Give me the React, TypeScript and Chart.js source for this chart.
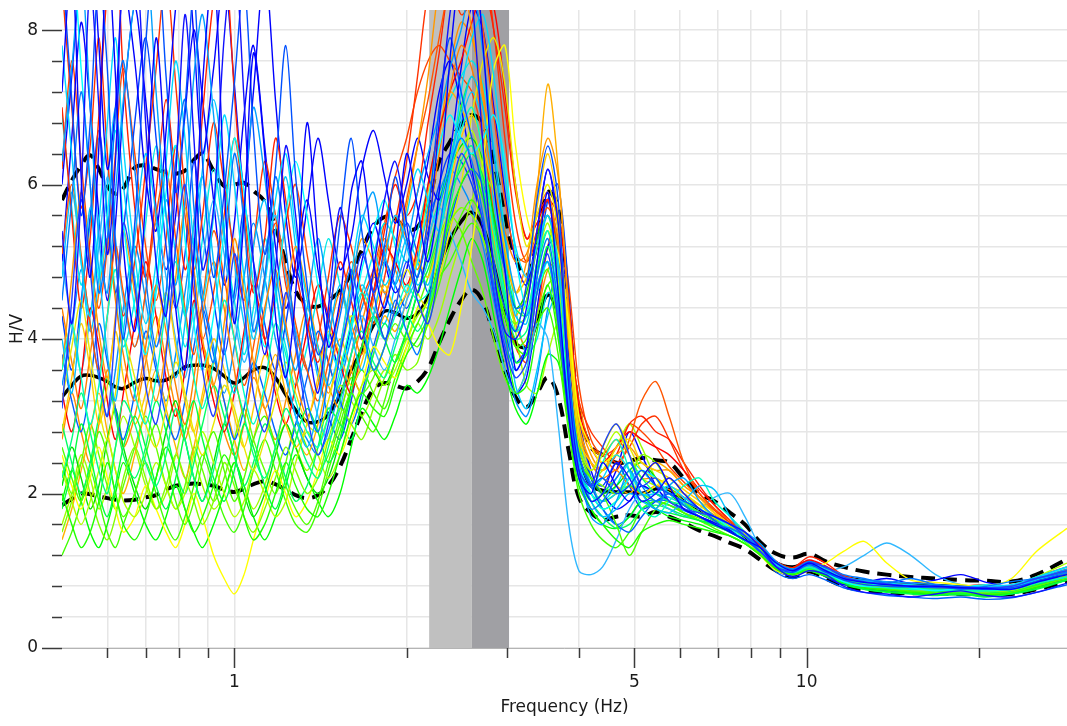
import { useEffect, useRef } from "react";
import { Chart, registerables } from "chart.js";

Chart.register(...registerables);

// Frequency samples (Hz) shared by every curve
const FREQ = [
  0.5, 0.52, 0.54, 0.56, 0.58, 0.6, 0.62, 0.64,
  0.67, 0.7, 0.73, 0.76, 0.79, 0.82, 0.85, 0.88,
  0.92, 0.96, 1.0, 1.04, 1.08, 1.13, 1.18, 1.23,
  1.28, 1.34, 1.4, 1.46, 1.53, 1.6, 1.67, 1.75,
  1.83, 1.91, 2.0, 2.09, 2.18, 2.28, 2.38, 2.49,
  2.6, 2.72, 2.84, 2.97, 3.1, 3.24, 3.38, 3.53,
  3.68, 3.84, 4.0, 4.2, 4.4, 4.65, 4.9, 5.15,
  5.45, 5.75, 6.1, 6.5, 6.9, 7.35, 7.8, 8.3,
  8.85, 9.45, 10.1, 10.8, 11.6, 12.6, 13.8, 15.2,
  16.8, 18.6, 20.6, 22.8, 25.2, 28.5,
];

// Average H/V curve and its ±1 standard deviation curves
const MEAN = [
  3.25, 3.4, 3.52, 3.53, 3.5, 3.45, 3.38, 3.36,
  3.44, 3.49, 3.46, 3.47, 3.55, 3.64, 3.66, 3.66,
  3.62, 3.52, 3.43, 3.5, 3.6, 3.63, 3.5, 3.28,
  3.08, 2.93, 2.93, 3.02, 3.28, 3.6, 3.85, 4.18,
  4.36, 4.34, 4.27, 4.33, 4.55, 4.95, 5.28, 5.52,
  5.64, 5.45, 4.95, 4.35, 3.95, 3.9, 4.22, 4.57,
  4.3, 3.2, 2.45, 2.1, 2.04, 2.02, 2.02, 2.0,
  2.06, 2.05, 1.9, 1.76, 1.66, 1.55, 1.44, 1.27,
  1.1, 1.05, 1.11, 1.02, 0.92, 0.87, 0.84, 0.82,
  0.81, 0.79, 0.78, 0.78, 0.88, 0.98,
];
const UPPER = [
  5.8, 6.05, 6.25, 6.38, 6.2, 5.98, 5.88, 5.95,
  6.22, 6.25, 6.2, 6.16, 6.14, 6.18, 6.32, 6.4,
  6.18, 5.98, 6.0, 6.02, 5.92, 5.78, 5.45, 5.0,
  4.62, 4.45, 4.42, 4.5, 4.62, 4.85, 5.15, 5.45,
  5.58, 5.56, 5.42, 5.45, 5.75, 6.3, 6.55, 6.78,
  6.9, 6.78, 6.3, 5.6, 5.05, 4.82, 5.25, 5.9,
  5.7, 4.3, 3.1, 2.6, 2.5, 2.4, 2.42, 2.46,
  2.43, 2.4, 2.2, 2.0, 1.9, 1.75, 1.6, 1.37,
  1.22, 1.17, 1.22, 1.12, 1.05, 0.99, 0.95, 0.92,
  0.9, 0.88, 0.87, 0.86, 0.95, 1.15,
];
const LOWER = [
  1.85, 1.93, 2.0, 1.99, 1.96, 1.94, 1.92, 1.91,
  1.92, 1.95, 1.98, 2.05, 2.1, 2.12, 2.13, 2.12,
  2.1, 2.05, 2.02, 2.06, 2.12, 2.16, 2.12, 2.05,
  1.98, 1.94, 1.98, 2.1, 2.35, 2.7, 3.05, 3.35,
  3.43, 3.4, 3.36, 3.45, 3.62, 3.95, 4.25, 4.5,
  4.64, 4.48, 4.05, 3.6, 3.25, 3.12, 3.3, 3.5,
  3.25, 2.55, 1.95, 1.75, 1.66, 1.7, 1.72, 1.7,
  1.76, 1.7, 1.62, 1.52, 1.45, 1.36, 1.28, 1.14,
  1.0, 0.92, 0.99, 0.9, 0.8, 0.75, 0.72, 0.71,
  0.71, 0.7, 0.69, 0.7, 0.76, 0.86,
];

// Peak frequency and its ±1 standard deviation band (Hz)
const F0 = 2.6;
const F0_LOW = 2.19;
const F0_HIGH = 3.02;

// Axis ranges and ticks
const X_MIN = 0.5;
const X_MAX = 28.5;
const Y_MIN = 0;
const Y_MAX = 8.26;
const X_TICKS = [0.6, 0.7, 0.8, 0.9, 1, 2, 3, 4, 5, 6, 7, 8, 9, 10, 20];
const X_LABELS = [1, 5, 10];
const Y_TICKS = [0, 0.4, 0.8, 1.2, 1.6, 2, 2.4, 2.8, 3.2, 3.6, 4, 4.4, 4.8, 5.2, 5.6, 6, 6.4, 6.8, 7.2, 7.6, 8];
const Y_LABELS = [0, 2, 4, 6, 8];

// Individual time-window H/V curves
const W01 = [7.2, 8.9, 6.1, 4.8, 6.5, 9.0, 7.4, 5.2, 4.1, 5.8, 7.9, 6.2, 4.4, 3.6, 5.1, 7.3, 8.8, 6.0, 4.2, 5.6, 7.7, 6.4, 4.3, 3.5, 4.6, 6.8, 5.2, 3.9, 4.5, 5.9, 6.3, 5.0, 4.4, 5.1, 6.4, 5.7, 5.0, 5.9, 7.6, 8.9, 9.2, 7.8, 6.0, 4.9, 3.6, 3.9, 5.0, 5.9, 4.6, 3.0, 2.2, 2.0, 2.4, 2.1, 1.9, 2.2, 2.4, 2.1, 1.8, 1.7, 1.6, 1.5, 1.4, 1.3, 1.1, 1.0, 1.1, 1.0, 0.9, 0.85, 0.82, 0.8, 0.8, 0.78, 0.77, 0.76, 0.85, 0.95];
const W02 = [5.4, 4.2, 5.9, 8.6, 7.0, 5.1, 6.3, 8.8, 9.1, 6.8, 5.0, 4.3, 6.1, 8.2, 6.6, 4.9, 5.7, 7.9, 9.0, 7.1, 5.0, 3.8, 4.9, 6.5, 5.6, 4.1, 3.3, 4.4, 5.7, 4.8, 4.0, 4.9, 5.8, 6.3, 5.5, 4.6, 5.3, 6.8, 8.2, 9.0, 8.4, 6.5, 4.9, 4.1, 4.0, 4.4, 5.4, 6.2, 5.5, 3.4, 2.3, 1.9, 2.0, 2.4, 2.2, 1.9, 2.0, 2.2, 2.0, 1.8, 1.7, 1.6, 1.5, 1.3, 1.05, 0.92, 1.0, 0.95, 0.8, 0.72, 0.7, 0.66, 0.7, 0.74, 0.68, 0.66, 0.72, 0.84];
const W03 = [3.1, 4.5, 5.8, 4.9, 3.6, 3.0, 4.2, 5.5, 4.7, 3.4, 2.9, 3.8, 5.2, 6.0, 4.8, 3.6, 3.0, 3.9, 5.1, 4.4, 3.3, 2.8, 3.5, 4.6, 3.9, 3.0, 2.5, 2.9, 3.8, 4.5, 5.1, 4.6, 4.0, 4.4, 5.0, 4.5, 4.2, 4.9, 5.8, 6.4, 6.1, 5.5, 4.6, 3.9, 3.5, 3.7, 4.6, 5.1, 4.2, 3.0, 2.3, 2.1, 2.6, 2.9, 2.5, 2.1, 2.2, 1.9, 1.8, 1.75, 1.7, 1.6, 1.45, 1.25, 1.05, 1.0, 1.1, 1.05, 0.92, 0.86, 0.83, 0.8, 0.8, 0.79, 0.78, 0.8, 0.9, 1.0];
const W04 = [8.9, 7.1, 5.6, 6.8, 8.7, 7.5, 5.2, 4.0, 5.5, 7.8, 9.2, 7.4, 5.9, 7.0, 8.5, 6.3, 4.8, 5.9, 7.3, 8.6, 6.7, 5.1, 6.2, 7.8, 6.1, 4.7, 3.8, 4.2, 5.5, 6.6, 5.4, 4.6, 5.2, 6.1, 5.3, 4.8, 5.6, 7.0, 7.9, 7.2, 6.6, 5.9, 5.0, 4.4, 4.1, 4.7, 5.8, 6.5, 5.8, 3.6, 2.5, 2.1, 2.2, 2.0, 2.1, 2.3, 2.1, 2.0, 1.9, 1.8, 1.65, 1.5, 1.4, 1.25, 1.05, 0.98, 1.08, 0.98, 0.88, 0.82, 0.8, 0.79, 0.78, 0.77, 0.76, 0.78, 0.86, 0.96];
const W05 = [4.5, 5.8, 7.2, 6.0, 4.6, 5.3, 6.9, 7.6, 6.2, 4.8, 3.9, 4.6, 6.3, 7.1, 5.7, 4.4, 3.7, 4.9, 6.4, 5.5, 4.1, 4.8, 6.1, 5.2, 4.0, 3.2, 2.8, 3.5, 4.3, 4.9, 4.2, 3.6, 3.9, 4.5, 4.1, 3.8, 4.4, 5.4, 6.2, 6.6, 6.3, 5.6, 4.7, 4.0, 3.6, 3.9, 4.8, 5.3, 4.4, 3.1, 2.2, 1.8, 1.9, 2.2, 2.4, 2.1, 1.9, 2.0, 1.85, 1.7, 1.6, 1.55, 1.45, 1.3, 1.1, 1.02, 1.12, 1.04, 0.95, 0.9, 0.84, 0.9, 0.82, 0.76, 0.8, 0.86, 0.9, 0.98];
const W06 = [6.3, 7.5, 8.8, 7.0, 5.3, 4.6, 5.9, 7.1, 8.4, 9.0, 7.2, 5.6, 4.7, 5.8, 7.4, 8.2, 6.9, 5.4, 4.5, 5.7, 7.0, 6.1, 4.9, 4.1, 3.6, 4.4, 5.3, 4.6, 3.9, 4.6, 5.5, 5.9, 5.1, 4.7, 5.2, 5.9, 6.4, 6.9, 7.5, 8.0, 8.6, 7.7, 6.4, 5.3, 4.6, 4.3, 4.7, 5.0, 4.3, 3.2, 2.3, 1.7, 1.6, 1.9, 2.3, 2.0, 1.8, 2.1, 2.2, 1.9, 1.7, 1.6, 1.5, 1.35, 1.12, 1.02, 1.08, 1.0, 0.9, 0.88, 0.86, 0.84, 0.82, 0.8, 0.78, 0.8, 0.9, 1.02];
const W07 = [4.0, 3.3, 4.4, 5.7, 4.9, 3.8, 3.2, 4.1, 5.3, 6.4, 5.6, 4.3, 3.5, 4.2, 5.5, 6.1, 5.0, 3.9, 3.3, 4.0, 5.2, 5.8, 4.7, 3.6, 3.0, 2.6, 3.1, 4.0, 4.7, 4.1, 3.6, 4.3, 5.0, 5.6, 5.2, 4.7, 5.0, 5.7, 6.3, 6.9, 7.4, 7.0, 6.0, 5.0, 4.3, 4.2, 5.0, 5.6, 4.9, 3.5, 2.4, 1.9, 1.7, 1.8, 2.0, 1.9, 1.8, 1.75, 1.9, 2.1, 2.05, 1.7, 1.45, 1.25, 1.08, 1.0, 1.06, 0.98, 0.9, 0.85, 0.82, 0.8, 0.8, 0.78, 0.77, 0.78, 0.88, 0.98];
const W08 = [7.8, 6.4, 5.0, 4.3, 5.5, 6.8, 7.9, 6.5, 5.1, 4.2, 5.0, 6.3, 7.6, 6.6, 5.2, 4.5, 5.6, 6.9, 6.0, 4.8, 4.0, 4.7, 5.8, 6.4, 5.4, 4.5, 3.9, 3.4, 3.9, 4.8, 5.6, 5.2, 4.7, 5.0, 5.6, 6.2, 5.8, 5.4, 6.1, 7.2, 7.9, 8.2, 7.4, 6.1, 5.2, 4.8, 5.2, 5.6, 5.0, 3.6, 2.5, 2.1, 2.2, 2.5, 2.3, 2.0, 2.0, 2.1, 1.95, 1.8, 1.7, 1.6, 1.45, 1.3, 1.1, 1.0, 1.1, 1.02, 0.92, 0.87, 0.84, 0.82, 0.8, 0.79, 0.8, 0.82, 0.92, 1.05];
const W09 = [8.5, 9.0, 7.5, 6.0, 4.8, 5.6, 6.7, 5.5, 4.4, 3.8, 4.6, 5.9, 6.5, 5.3, 4.2, 3.6, 4.3, 5.4, 6.6, 5.9, 4.7, 3.9, 4.5, 5.6, 6.3, 5.6, 4.7, 4.0, 3.6, 4.1, 4.9, 5.4, 5.8, 5.2, 4.6, 5.0, 5.8, 6.5, 6.9, 6.6, 6.4, 6.6, 6.9, 6.3, 5.1, 4.4, 4.6, 5.0, 4.5, 3.2, 2.4, 2.0, 1.8, 1.9, 2.2, 2.3, 2.2, 2.0, 1.9, 1.8, 1.7, 1.55, 1.4, 1.25, 1.05, 0.98, 1.08, 0.98, 0.86, 0.8, 0.84, 0.78, 0.74, 0.78, 0.82, 0.78, 0.9, 1.05];
const W10 = [3.6, 4.2, 3.5, 2.9, 3.4, 4.3, 4.9, 4.1, 3.3, 2.9, 3.5, 4.4, 5.0, 4.3, 3.5, 3.1, 3.7, 4.5, 4.0, 3.3, 2.9, 3.4, 4.2, 3.8, 3.2, 2.8, 2.6, 3.0, 3.6, 4.2, 4.6, 4.3, 4.0, 4.3, 4.7, 4.5, 4.6, 5.3, 6.1, 6.7, 7.0, 6.4, 5.4, 4.6, 4.1, 4.3, 5.0, 5.4, 4.6, 3.2, 2.3, 2.0, 2.4, 2.7, 2.3, 1.8, 1.7, 1.9, 2.1, 2.2, 1.9, 1.7, 1.5, 1.25, 1.06, 0.98, 1.04, 0.96, 0.86, 0.8, 0.78, 0.76, 0.75, 0.74, 0.74, 0.76, 0.84, 0.92];
const W11 = [2.2, 2.7, 3.3, 2.8, 2.3, 2.0, 2.6, 3.2, 2.9, 2.4, 2.1, 2.5, 3.1, 2.7, 2.2, 1.9, 2.3, 2.9, 3.4, 3.0, 2.5, 2.2, 2.6, 3.1, 2.8, 2.4, 2.2, 2.6, 3.2, 3.8, 4.1, 3.7, 3.5, 3.9, 4.3, 4.1, 4.4, 5.0, 5.7, 6.3, 6.5, 6.0, 5.2, 4.5, 4.0, 4.1, 4.7, 5.0, 4.2, 3.0, 2.2, 1.9, 2.0, 2.2, 2.4, 2.2, 2.0, 1.9, 1.85, 1.75, 1.65, 1.55, 1.45, 1.3, 1.1, 1.02, 1.08, 1.0, 0.9, 0.84, 0.8, 0.78, 0.76, 0.75, 0.74, 0.76, 0.84, 0.95];
const W12 = [1.8, 2.3, 2.9, 2.5, 2.0, 1.7, 2.1, 2.6, 3.0, 2.6, 2.1, 1.8, 2.2, 2.8, 3.2, 2.7, 2.2, 1.9, 2.3, 2.9, 2.6, 2.1, 1.8, 2.2, 2.7, 3.1, 2.8, 2.4, 2.7, 3.3, 3.9, 4.3, 4.0, 3.7, 4.1, 4.6, 4.9, 5.4, 5.9, 6.2, 6.4, 6.1, 5.5, 4.6, 3.7, 3.8, 4.6, 5.2, 4.4, 3.0, 2.3, 2.0, 1.8, 1.9, 2.1, 2.0, 1.8, 1.75, 1.7, 1.65, 1.6, 1.5, 1.4, 1.25, 1.05, 0.97, 1.03, 0.96, 0.84, 0.76, 0.72, 0.7, 0.68, 0.7, 0.66, 0.7, 0.76, 0.88];
const W13 = [2.0, 1.6, 1.3, 1.5, 1.9, 2.4, 2.0, 1.6, 1.4, 1.7, 2.2, 2.6, 2.3, 1.8, 1.5, 1.7, 2.1, 2.5, 2.2, 1.7, 1.4, 1.6, 2.0, 2.4, 2.1, 1.8, 1.7, 2.0, 2.5, 3.0, 3.3, 3.1, 3.0, 3.4, 3.8, 4.0, 4.3, 4.9, 5.6, 6.0, 6.2, 5.8, 5.0, 4.1, 3.3, 3.4, 4.1, 4.7, 4.0, 2.9, 2.1, 1.8, 1.6, 1.4, 1.3, 1.5, 1.6, 1.65, 1.6, 1.55, 1.5, 1.45, 1.35, 1.2, 1.02, 0.95, 1.0, 0.93, 0.84, 0.78, 0.75, 0.72, 0.7, 0.7, 0.69, 0.71, 0.78, 0.88];
const W14 = [2.6, 2.2, 1.9, 2.3, 2.8, 2.5, 2.0, 1.7, 2.0, 2.5, 2.9, 2.4, 1.9, 1.6, 1.9, 2.4, 2.8, 2.3, 1.9, 2.2, 2.7, 3.0, 2.6, 2.1, 1.8, 1.6, 1.9, 2.4, 2.9, 3.3, 3.0, 2.8, 3.2, 3.7, 4.0, 3.9, 4.2, 4.7, 5.2, 5.6, 5.8, 5.5, 4.9, 4.3, 3.9, 4.0, 4.6, 4.9, 4.1, 3.0, 2.4, 2.2, 2.0, 1.6, 1.2, 1.5, 1.8, 1.9, 1.75, 1.65, 1.55, 1.45, 1.35, 1.22, 1.04, 0.97, 1.02, 0.95, 0.85, 0.8, 0.77, 0.74, 0.72, 0.71, 0.7, 0.72, 0.8, 0.9];
const W15 = [1.5, 1.9, 2.4, 2.0, 1.6, 1.4, 1.7, 2.2, 2.6, 2.2, 1.8, 2.1, 2.5, 2.2, 1.9, 1.6, 1.9, 2.4, 2.1, 1.7, 1.5, 1.8, 2.2, 2.6, 2.3, 2.0, 2.2, 2.7, 3.1, 2.9, 2.7, 3.1, 3.5, 3.8, 3.6, 3.7, 4.3, 5.0, 5.5, 5.7, 5.6, 5.3, 4.8, 4.4, 4.2, 4.5, 5.2, 5.6, 4.9, 3.6, 2.6, 2.2, 2.1, 2.0, 2.2, 2.5, 2.4, 2.1, 1.9, 1.75, 1.65, 1.55, 1.45, 1.28, 1.08, 1.0, 1.06, 0.98, 0.88, 0.82, 0.79, 0.77, 0.75, 0.74, 0.73, 0.75, 0.84, 0.96];
const W16 = [2.3, 1.9, 1.6, 1.9, 2.3, 2.7, 2.3, 1.9, 1.7, 2.0, 2.4, 2.1, 1.8, 2.0, 2.5, 2.8, 2.4, 2.0, 1.7, 1.9, 2.3, 2.0, 1.7, 1.9, 2.4, 2.8, 2.5, 2.2, 2.5, 3.0, 3.4, 3.6, 3.4, 3.6, 4.0, 4.3, 4.5, 5.1, 5.8, 6.4, 6.7, 6.2, 5.4, 4.7, 4.2, 4.3, 5.0, 5.5, 4.8, 3.5, 2.6, 2.3, 2.5, 2.8, 2.5, 2.2, 2.1, 2.0, 1.9, 1.8, 1.68, 1.58, 1.45, 1.3, 1.1, 1.02, 1.08, 1.0, 0.9, 0.84, 0.8, 0.78, 0.77, 0.76, 0.76, 0.8, 0.92, 1.1];
const W17 = [2.5, 2.1, 1.8, 2.2, 2.6, 2.2, 1.8, 1.5, 1.7, 2.1, 1.8, 1.5, 1.3, 1.6, 2.0, 1.7, 1.2, 0.9, 0.7, 0.95, 1.4, 1.9, 2.3, 2.0, 1.7, 1.9, 2.3, 2.7, 2.5, 2.9, 3.4, 3.9, 3.7, 3.5, 3.9, 4.4, 4.2, 3.9, 3.8, 4.4, 5.2, 6.3, 7.5, 7.8, 6.5, 5.6, 5.2, 5.4, 5.1, 4.2, 3.0, 2.6, 2.4, 2.5, 2.3, 2.0, 2.1, 2.2, 2.0, 1.8, 1.65, 1.55, 1.4, 1.2, 1.0, 0.95, 1.0, 1.1, 1.25, 1.38, 1.1, 0.88, 0.85, 0.82, 0.8, 0.9, 1.25, 1.55];
const W18 = [3.2, 3.9, 4.5, 3.8, 3.1, 2.7, 3.3, 4.0, 3.5, 2.9, 2.6, 3.1, 3.7, 3.3, 2.8, 2.5, 2.9, 3.4, 3.1, 2.6, 2.3, 2.7, 3.2, 3.7, 3.3, 2.9, 2.8, 3.2, 3.8, 4.3, 4.0, 3.6, 3.9, 4.4, 4.9, 4.6, 4.4, 4.8, 5.4, 6.0, 6.9, 7.6, 7.9, 7.3, 6.0, 5.2, 5.6, 6.0, 5.4, 4.1, 2.8, 2.3, 2.6, 2.9, 2.6, 2.3, 2.2, 2.1, 2.0, 1.85, 1.7, 1.6, 1.45, 1.28, 1.08, 1.0, 1.05, 0.98, 0.88, 0.82, 0.78, 0.76, 0.75, 0.74, 0.73, 0.75, 0.84, 0.95];
const W19 = [2.8, 3.5, 4.2, 3.6, 2.9, 3.4, 4.1, 3.5, 2.9, 3.3, 4.0, 4.6, 3.9, 3.2, 2.8, 3.3, 4.0, 3.6, 3.0, 2.6, 3.1, 3.8, 3.4, 2.9, 2.6, 2.9, 3.5, 4.1, 3.8, 3.4, 3.7, 4.3, 4.7, 4.4, 4.6, 5.0, 4.8, 5.3, 6.0, 6.6, 6.9, 6.5, 5.9, 5.2, 4.6, 4.8, 5.7, 6.4, 5.6, 4.0, 2.7, 2.4, 2.3, 2.6, 2.7, 2.4, 2.3, 2.2, 2.05, 1.9, 1.75, 1.6, 1.48, 1.3, 1.1, 1.02, 1.08, 1.0, 0.9, 0.84, 0.8, 0.78, 0.76, 0.75, 0.74, 0.76, 0.85, 0.96];
const W20 = [3.6, 4.8, 5.9, 5.0, 4.1, 3.5, 4.3, 5.4, 4.6, 3.8, 3.2, 3.9, 4.8, 5.7, 4.9, 4.0, 3.4, 4.2, 5.3, 4.6, 3.7, 3.1, 3.6, 4.5, 5.2, 4.6, 3.9, 3.3, 3.9, 4.7, 5.3, 5.0, 4.6, 5.0, 5.7, 6.5, 7.4, 8.6, 9.2, 8.8, 8.0, 7.1, 6.0, 5.1, 4.6, 5.0, 6.0, 6.6, 6.1, 4.4, 3.0, 2.5, 2.3, 2.5, 2.6, 2.4, 2.3, 2.3, 2.1, 1.95, 1.75, 1.6, 1.45, 1.3, 1.1, 1.0, 1.05, 0.98, 0.88, 0.82, 0.79, 0.76, 0.75, 0.74, 0.73, 0.76, 0.84, 0.94];
const W21 = [4.4, 3.7, 3.1, 3.8, 4.6, 5.3, 4.5, 3.8, 3.2, 3.9, 4.7, 4.1, 3.4, 2.9, 3.5, 4.3, 5.0, 4.4, 3.6, 3.0, 3.6, 4.4, 4.9, 4.2, 3.5, 3.0, 3.4, 4.0, 4.6, 4.2, 3.8, 4.5, 5.1, 5.6, 5.3, 4.9, 5.5, 6.4, 7.2, 7.8, 7.5, 6.8, 6.0, 5.4, 5.0, 5.1, 5.6, 5.9, 5.2, 3.9, 2.8, 2.4, 2.2, 2.3, 2.1, 2.0, 2.1, 2.05, 1.95, 1.85, 1.7, 1.58, 1.45, 1.28, 1.08, 1.0, 1.06, 0.98, 0.88, 0.82, 0.78, 0.76, 0.75, 0.74, 0.74, 0.76, 0.84, 0.95];
const W22 = [5.1, 6.0, 5.1, 4.2, 3.6, 4.3, 5.2, 4.6, 3.9, 4.6, 5.6, 6.2, 5.3, 4.4, 3.8, 4.5, 5.4, 4.8, 4.0, 3.4, 3.9, 4.8, 5.5, 4.9, 4.2, 3.6, 3.2, 3.7, 4.4, 5.0, 4.6, 4.2, 4.5, 5.1, 5.8, 6.5, 7.1, 7.9, 8.6, 9.0, 8.7, 8.0, 6.9, 5.8, 5.1, 5.0, 5.4, 5.7, 5.3, 4.1, 3.0, 2.6, 2.5, 2.3, 2.7, 3.2, 3.45, 3.0, 2.4, 2.0, 1.8, 1.65, 1.5, 1.3, 1.1, 1.02, 1.1, 1.02, 0.9, 0.84, 0.8, 0.78, 0.77, 0.76, 0.75, 0.77, 0.85, 0.95];
const W23 = [7.0, 5.6, 4.4, 5.3, 6.9, 8.5, 9.2, 7.4, 5.7, 4.8, 5.9, 7.1, 6.0, 4.9, 5.5, 6.9, 8.4, 9.0, 7.2, 5.6, 4.6, 5.3, 6.6, 5.8, 4.9, 4.2, 3.7, 4.3, 5.0, 4.5, 4.0, 4.6, 5.4, 6.0, 5.6, 5.9, 6.8, 7.7, 8.7, 9.3, 9.2, 8.7, 8.0, 7.0, 5.9, 5.3, 5.6, 5.8, 5.0, 3.6, 2.7, 2.4, 2.3, 2.5, 2.9, 3.0, 2.8, 2.7, 2.4, 2.1, 1.85, 1.65, 1.5, 1.32, 1.12, 1.04, 1.18, 1.1, 0.94, 0.86, 0.84, 0.82, 0.78, 0.8, 0.82, 0.78, 0.92, 1.05];
const W24 = [3.3, 2.8, 3.5, 4.4, 3.9, 3.2, 2.7, 3.3, 4.2, 5.0, 4.3, 3.5, 3.0, 3.6, 4.5, 3.9, 3.2, 2.8, 3.3, 4.1, 4.7, 4.0, 3.3, 2.9, 3.4, 4.1, 4.7, 4.3, 3.7, 3.3, 3.9, 4.6, 5.2, 5.0, 4.7, 5.2, 6.0, 6.7, 7.2, 7.6, 8.1, 8.5, 8.3, 7.2, 6.0, 5.3, 5.5, 5.8, 5.6, 4.5, 3.1, 2.6, 2.4, 2.6, 2.8, 2.7, 2.6, 2.5, 2.3, 2.05, 1.85, 1.65, 1.48, 1.32, 1.12, 1.04, 1.14, 1.06, 0.94, 0.86, 0.82, 0.8, 0.78, 0.77, 0.77, 0.8, 0.9, 1.02];
const W25 = [6.0, 7.4, 8.8, 9.3, 7.8, 6.2, 7.0, 8.6, 7.6, 6.1, 5.4, 6.7, 8.3, 9.2, 7.9, 6.4, 7.5, 8.7, 7.3, 6.0, 7.2, 8.8, 7.1, 5.6, 4.8, 5.7, 6.6, 5.8, 4.9, 5.3, 6.2, 6.7, 6.1, 5.5, 6.0, 6.6, 6.1, 5.8, 6.4, 7.5, 8.3, 8.0, 7.0, 5.9, 5.0, 4.7, 5.4, 6.2, 5.4, 3.8, 2.6, 2.2, 2.0, 1.8, 1.9, 2.1, 2.0, 1.9, 1.8, 1.7, 1.62, 1.52, 1.4, 1.25, 1.04, 0.98, 1.04, 0.92, 0.82, 0.85, 0.9, 0.84, 0.88, 0.95, 0.85, 0.8, 0.88, 0.96];
const W26 = [3.8, 3.2, 2.8, 3.4, 4.2, 3.7, 3.1, 2.7, 3.3, 4.1, 3.6, 3.0, 2.7, 3.2, 3.9, 4.4, 3.8, 3.2, 2.7, 3.1, 3.7, 3.3, 2.8, 2.5, 2.9, 3.5, 4.1, 3.7, 3.2, 2.9, 3.3, 3.9, 4.4, 4.9, 5.5, 5.1, 4.6, 4.9, 5.5, 6.0, 6.2, 6.0, 5.5, 4.9, 4.4, 4.5, 5.2, 5.8, 5.0, 3.6, 2.5, 2.1, 1.8, 1.6, 1.5, 1.7, 1.9, 1.9, 1.8, 1.7, 1.62, 1.52, 1.4, 1.22, 0.98, 0.9, 0.95, 0.88, 0.78, 0.72, 0.68, 0.66, 0.64, 0.66, 0.63, 0.65, 0.72, 0.82];
const W27 = [5.0, 4.2, 3.6, 4.3, 5.2, 6.1, 5.3, 4.5, 3.9, 4.6, 5.5, 4.8, 4.0, 3.5, 4.2, 5.0, 5.8, 5.1, 4.3, 3.7, 4.2, 5.1, 5.6, 4.8, 4.1, 3.6, 3.0, 2.7, 3.1, 3.8, 4.3, 3.9, 3.6, 4.0, 4.5, 4.8, 5.3, 5.7, 5.4, 5.0, 4.6, 4.4, 4.1, 3.6, 3.3, 3.6, 4.2, 4.0, 2.9, 1.6, 1.0, 0.95, 1.05, 1.4, 1.8, 2.0, 1.9, 1.8, 1.7, 1.8, 1.95, 2.0, 1.7, 1.3, 1.04, 0.98, 1.04, 1.0, 1.05, 1.2, 1.36, 1.2, 0.95, 0.82, 0.8, 0.78, 0.84, 0.92];
const W28 = [2.9, 2.4, 2.0, 2.4, 3.0, 3.5, 3.0, 2.5, 2.2, 2.6, 3.2, 2.8, 2.3, 2.0, 2.4, 2.9, 3.4, 3.0, 2.5, 2.1, 2.4, 2.9, 2.6, 2.2, 1.9, 2.1, 2.6, 3.1, 2.9, 2.7, 3.2, 3.8, 4.2, 4.0, 4.3, 4.8, 5.3, 5.8, 6.3, 7.0, 7.4, 7.0, 6.1, 5.1, 4.4, 4.3, 4.9, 5.4, 4.7, 3.3, 2.3, 1.9, 1.7, 1.55, 1.6, 1.8, 1.85, 1.8, 1.72, 1.65, 1.58, 1.5, 1.38, 1.22, 1.03, 0.96, 1.02, 0.95, 0.85, 0.8, 0.77, 0.75, 0.73, 0.72, 0.72, 0.74, 0.82, 0.93];
const W29 = [1.2, 1.5, 1.9, 2.3, 1.9, 1.5, 1.3, 1.6, 2.0, 2.4, 2.0, 1.6, 1.4, 1.7, 2.1, 2.5, 2.1, 1.7, 1.5, 1.8, 2.3, 2.7, 2.3, 1.9, 1.6, 1.5, 1.8, 2.3, 2.8, 3.3, 3.6, 3.3, 3.1, 3.5, 3.9, 4.2, 4.5, 4.8, 5.0, 5.3, 5.5, 5.3, 4.8, 4.3, 3.9, 3.8, 4.2, 4.4, 3.8, 2.8, 2.0, 1.6, 1.4, 1.3, 1.5, 1.8, 1.9, 1.85, 1.75, 1.65, 1.58, 1.5, 1.38, 1.22, 1.02, 0.95, 1.0, 0.94, 0.84, 0.79, 0.76, 0.73, 0.71, 0.7, 0.7, 0.72, 0.8, 0.92];
const W30 = [2.1, 2.6, 2.2, 1.8, 2.1, 2.7, 3.1, 2.6, 2.1, 1.8, 2.2, 2.8, 3.2, 2.7, 2.2, 1.9, 2.4, 2.9, 2.5, 2.0, 1.7, 2.0, 2.5, 2.9, 2.6, 2.2, 2.0, 2.2, 2.7, 3.4, 3.9, 3.6, 3.4, 3.7, 4.1, 4.6, 5.1, 5.7, 6.2, 6.5, 6.6, 6.3, 5.6, 4.9, 4.4, 4.6, 5.3, 5.8, 5.1, 3.7, 2.6, 2.2, 2.0, 2.1, 2.3, 2.4, 2.2, 2.0, 1.85, 1.75, 1.65, 1.55, 1.44, 1.28, 1.08, 1.0, 1.06, 0.98, 0.88, 0.82, 0.79, 0.76, 0.74, 0.73, 0.72, 0.74, 0.82, 0.92];
const W31 = [1.4, 1.8, 2.3, 2.8, 3.3, 2.8, 2.3, 2.0, 2.5, 3.1, 3.6, 3.1, 2.6, 2.2, 2.6, 3.2, 3.7, 3.2, 2.7, 2.3, 2.7, 3.3, 3.8, 3.3, 2.8, 2.5, 2.9, 3.5, 4.0, 3.6, 3.3, 3.8, 4.3, 4.1, 4.5, 5.1, 5.9, 6.7, 7.2, 7.0, 6.6, 6.0, 5.3, 4.7, 4.3, 4.7, 5.9, 7.3, 6.2, 4.3, 2.9, 2.4, 2.2, 2.1, 2.0, 2.2, 2.4, 2.3, 2.1, 1.95, 1.75, 1.6, 1.45, 1.3, 1.1, 1.02, 1.07, 0.99, 0.89, 0.83, 0.79, 0.77, 0.76, 0.75, 0.74, 0.77, 0.86, 0.97];
const W32 = [8.6, 7.0, 5.7, 6.5, 7.9, 6.4, 5.1, 4.3, 5.0, 6.2, 7.5, 8.7, 7.3, 5.9, 4.9, 5.6, 6.8, 6.0, 5.1, 4.5, 5.2, 6.3, 5.6, 4.7, 4.1, 3.6, 4.0, 4.8, 5.6, 5.2, 4.6, 4.2, 4.8, 5.5, 6.3, 7.4, 8.5, 9.0, 8.7, 8.2, 8.4, 8.9, 8.0, 6.6, 5.5, 5.0, 5.3, 5.6, 5.2, 4.2, 3.2, 2.8, 2.6, 2.4, 2.6, 2.9, 3.0, 2.7, 2.3, 2.0, 1.8, 1.62, 1.47, 1.3, 1.1, 1.03, 1.12, 1.04, 0.92, 0.85, 0.81, 0.79, 0.77, 0.76, 0.76, 0.78, 0.86, 0.97];
const W33 = [5.0, 6.6, 8.1, 7.0, 5.6, 4.5, 5.5, 7.0, 8.3, 7.1, 5.7, 4.9, 5.6, 6.9, 8.0, 7.1, 5.8, 4.7, 5.5, 6.9, 7.8, 6.5, 5.2, 4.4, 5.0, 5.8, 4.9, 4.2, 3.6, 4.2, 5.0, 5.5, 5.0, 4.6, 4.9, 5.6, 6.3, 7.2, 7.6, 7.0, 6.2, 5.4, 4.6, 3.8, 3.3, 3.5, 4.4, 5.2, 5.3, 4.4, 3.0, 2.3, 2.0, 2.3, 2.8, 2.5, 2.1, 1.9, 1.8, 1.7, 1.6, 1.5, 1.4, 1.25, 1.04, 0.97, 1.03, 0.95, 0.86, 0.8, 0.76, 0.74, 0.72, 0.72, 0.7, 0.72, 0.8, 0.9];
const W34 = [4.8, 5.9, 5.0, 4.1, 4.8, 6.0, 7.0, 6.0, 4.8, 4.0, 4.7, 5.8, 5.1, 4.3, 5.0, 6.2, 7.1, 6.2, 5.0, 4.2, 3.6, 4.3, 5.4, 6.1, 5.2, 4.3, 3.5, 3.1, 3.5, 4.2, 4.7, 4.4, 4.2, 4.7, 5.3, 5.0, 4.7, 5.3, 6.1, 6.8, 7.2, 6.8, 5.8, 4.5, 3.4, 3.1, 3.6, 4.3, 4.6, 4.0, 2.8, 2.1, 1.9, 2.0, 2.2, 2.1, 2.0, 1.95, 1.85, 1.75, 1.65, 1.55, 1.45, 1.28, 1.08, 1.0, 1.05, 0.98, 0.88, 0.83, 0.8, 0.78, 0.76, 0.75, 0.75, 0.77, 0.86, 0.96];
const W35 = [1.9, 2.3, 1.9, 1.5, 1.3, 1.6, 2.0, 2.4, 2.0, 1.6, 1.4, 1.7, 2.1, 1.8, 1.5, 1.3, 1.6, 2.0, 2.4, 2.1, 1.7, 1.4, 1.7, 2.1, 2.5, 2.2, 1.9, 1.7, 2.0, 2.6, 3.1, 2.9, 2.7, 3.0, 3.4, 3.3, 3.5, 3.9, 4.4, 4.9, 5.3, 5.0, 4.3, 3.6, 3.1, 2.9, 3.3, 3.8, 3.7, 3.0, 2.2, 1.8, 1.6, 1.55, 1.7, 1.9, 1.8, 1.7, 1.65, 1.6, 1.52, 1.45, 1.35, 1.2, 1.02, 0.95, 1.0, 0.92, 0.82, 0.76, 0.73, 0.71, 0.69, 0.69, 0.68, 0.7, 0.78, 0.88];
const W36 = [2.4, 2.0, 2.4, 2.9, 2.5, 2.1, 1.8, 2.1, 2.6, 3.0, 2.6, 2.1, 1.8, 2.1, 2.6, 2.3, 1.9, 2.2, 2.7, 3.1, 2.7, 2.3, 2.0, 2.4, 2.9, 2.6, 2.3, 2.5, 3.0, 3.5, 3.3, 3.5, 3.9, 4.2, 4.0, 4.4, 4.8, 5.3, 5.6, 5.4, 5.0, 4.6, 4.0, 3.5, 3.3, 3.6, 4.3, 4.7, 4.8, 3.9, 2.7, 2.1, 1.9, 2.0, 2.1, 2.0, 1.9, 1.85, 1.75, 1.68, 1.6, 1.5, 1.4, 1.25, 1.05, 0.98, 1.04, 0.96, 0.87, 0.81, 0.78, 0.76, 0.74, 0.73, 0.72, 0.74, 0.82, 0.94];
const W37 = [2.7, 3.3, 2.8, 2.4, 2.9, 3.6, 3.1, 2.6, 3.0, 3.7, 4.3, 3.7, 3.1, 2.7, 3.2, 3.9, 3.4, 2.8, 2.5, 2.9, 3.5, 3.1, 2.7, 3.2, 3.8, 4.4, 3.9, 3.4, 3.1, 3.6, 4.2, 4.8, 5.3, 4.9, 4.6, 5.0, 5.7, 6.6, 7.5, 8.1, 7.9, 7.2, 6.1, 5.0, 4.2, 3.9, 4.3, 4.9, 5.0, 4.2, 3.2, 2.6, 2.5, 2.7, 2.5, 2.2, 2.2, 2.1, 2.0, 1.85, 1.72, 1.6, 1.46, 1.3, 1.1, 1.02, 1.08, 1.0, 0.9, 0.84, 0.8, 0.78, 0.77, 0.76, 0.75, 0.78, 0.86, 0.96];
const W38 = [4.3, 3.6, 4.5, 5.6, 6.7, 5.6, 4.6, 5.4, 6.8, 7.9, 6.6, 5.2, 4.4, 5.1, 6.3, 5.4, 4.5, 3.8, 4.6, 5.7, 5.0, 4.2, 3.6, 4.2, 4.9, 4.3, 3.6, 3.0, 2.7, 3.2, 3.9, 4.6, 5.0, 4.7, 4.4, 4.8, 5.4, 6.0, 6.4, 6.3, 6.0, 5.5, 4.8, 4.1, 3.7, 3.9, 4.8, 5.8, 6.0, 4.6, 2.9, 2.2, 2.1, 2.4, 2.1, 1.8, 1.9, 2.0, 1.95, 1.8, 1.65, 1.52, 1.4, 1.24, 1.0, 0.94, 1.02, 0.94, 0.84, 0.78, 0.74, 0.72, 0.7, 0.69, 0.68, 0.7, 0.78, 0.88];
const W39 = [6.9, 5.7, 4.7, 5.5, 6.6, 5.6, 4.6, 3.9, 4.5, 5.5, 6.5, 5.6, 4.6, 3.9, 4.4, 5.3, 6.2, 5.3, 4.5, 3.8, 4.4, 5.3, 4.6, 3.9, 3.4, 3.9, 4.6, 5.3, 4.7, 4.2, 4.6, 5.1, 5.5, 5.3, 5.0, 5.4, 6.0, 6.7, 7.1, 7.4, 7.6, 7.3, 6.5, 5.4, 4.4, 3.8, 4.0, 4.6, 4.4, 3.3, 2.4, 2.0, 1.9, 2.1, 2.4, 2.3, 2.1, 2.0, 1.88, 1.76, 1.66, 1.56, 1.44, 1.28, 1.08, 1.0, 1.06, 0.98, 0.88, 0.83, 0.8, 0.78, 0.76, 0.75, 0.75, 0.77, 0.86, 0.96];
const W40 = [1.6, 2.0, 2.5, 2.2, 1.8, 2.1, 2.6, 3.0, 2.6, 2.1, 1.8, 2.0, 2.5, 2.9, 2.5, 2.1, 1.8, 2.0, 2.4, 2.1, 1.8, 2.1, 2.6, 2.9, 2.6, 2.3, 2.6, 3.0, 3.4, 3.2, 3.0, 3.3, 3.6, 3.5, 3.8, 4.2, 4.0, 4.3, 4.8, 5.3, 5.8, 6.1, 5.9, 5.0, 4.1, 3.4, 3.3, 3.8, 4.2, 3.6, 2.6, 2.2, 2.3, 2.6, 2.9, 2.6, 2.2, 2.0, 1.9, 1.8, 1.68, 1.56, 1.44, 1.28, 1.08, 1.0, 1.05, 0.97, 0.88, 0.82, 0.78, 0.76, 0.74, 0.73, 0.73, 0.76, 0.86, 1.0];
const W41 = [6.2, 7.6, 6.3, 5.1, 4.4, 5.2, 6.4, 7.5, 6.4, 5.2, 4.5, 5.3, 6.5, 5.6, 4.6, 4.0, 4.6, 5.6, 6.6, 5.7, 4.7, 4.0, 4.6, 5.5, 6.0, 5.1, 4.3, 3.7, 3.3, 3.8, 4.5, 4.9, 5.5, 6.1, 6.6, 7.2, 7.6, 7.8, 7.6, 7.4, 7.2, 6.6, 5.6, 4.6, 3.9, 3.7, 4.3, 5.2, 5.6, 4.7, 3.4, 2.7, 2.5, 2.6, 2.9, 2.8, 2.6, 2.35, 2.15, 1.95, 1.78, 1.62, 1.48, 1.32, 1.12, 1.04, 1.12, 1.04, 0.93, 0.86, 0.82, 0.8, 0.78, 0.77, 0.76, 0.79, 0.88, 1.0];
const W42 = [3.4, 4.1, 4.9, 4.2, 3.5, 3.0, 3.6, 4.4, 5.2, 4.5, 3.7, 3.2, 3.8, 4.6, 5.3, 4.6, 3.9, 3.3, 3.9, 4.8, 5.5, 4.8, 4.0, 3.5, 3.0, 2.7, 2.5, 2.8, 3.4, 4.0, 4.4, 4.8, 4.6, 4.3, 4.6, 5.1, 5.6, 5.9, 6.2, 6.0, 5.7, 5.2, 4.5, 3.8, 3.2, 3.0, 3.5, 4.4, 4.9, 4.3, 3.0, 2.2, 1.8, 1.6, 1.7, 1.9, 1.9, 1.85, 1.78, 1.7, 1.62, 1.52, 1.4, 1.24, 1.02, 0.95, 1.0, 0.93, 0.84, 0.78, 0.75, 0.73, 0.71, 0.7, 0.7, 0.72, 0.79, 0.88];

const WINDOWS = [
  W01, W02, W03, W04, W05, W06, W07, W08, W09, W10, W11, W12, W13, W14,
  W15, W16, W17, W18, W19, W20, W21, W22, W23, W24, W25, W26, W27, W28,
  W29, W30, W31, W32, W33, W34, W35, W36, W37, W38, W39, W40, W41, W42,
];
const WINDOW_COLORS = [
  "#0000ff", "#1010ff", "#2040ff", "#0050ff", "#0078ff", "#00a0ff", "#00bfff", "#00d8ff",
  "#00ffff", "#00ffc0", "#00ff80", "#00ff40", "#20ff00", "#50ff00", "#80ff00", "#b0ff00",
  "#ffff00", "#e8e800", "#ffcc00", "#ff9900", "#ff7f00", "#ff5500", "#ff2200", "#ff0000",
  "#0000ff", "#0060ff", "#30b8ff", "#00ff60", "#40ff00", "#00e000", "#ffb000", "#ff3300",
  "#0000ff", "#00c8ff", "#00ff00", "#66ff00", "#ff8c00", "#0040ff", "#00e8e8", "#a0ff00",
  "#ff4400", "#0090ff",
];

const FONT = "'DejaVu Sans', sans-serif";

const toPoints = (ys: number[]) => FREQ.map((f, i) => ({ x: f, y: ys[i] }));

// Shaded f0 ± sigma band behind the curves
const bandPlugin = {
  id: "f0Band",
  beforeDatasetsDraw(chart: any) {
    const { ctx, chartArea, scales } = chart;
    const x0 = scales.x.getPixelForValue(F0_LOW);
    const x1 = scales.x.getPixelForValue(F0);
    const x2 = scales.x.getPixelForValue(F0_HIGH);
    ctx.save();
    ctx.fillStyle = "#c0c0c0";
    ctx.fillRect(x0, chartArea.top, x1 - x0, chartArea.bottom - chartArea.top);
    ctx.fillStyle = "#a0a0a4";
    ctx.fillRect(x1, chartArea.top, x2 - x1, chartArea.bottom - chartArea.top);
    ctx.restore();
  },
};

// Outside tick marks, longer on the labelled values
const tickMarkPlugin = {
  id: "tickMarks",
  afterDraw(chart: any) {
    const { ctx, chartArea, scales } = chart;
    ctx.save();
    ctx.strokeStyle = "#3a3a3a";
    ctx.lineWidth = 1.5;
    ctx.beginPath();
    X_TICKS.forEach((v) => {
      const px = Math.round(scales.x.getPixelForValue(v)) + 0.5;
      const len = X_LABELS.includes(v) ? 20 : 10;
      ctx.moveTo(px, chartArea.bottom);
      ctx.lineTo(px, chartArea.bottom + len);
    });
    Y_TICKS.forEach((v) => {
      const py = Math.round(scales.y.getPixelForValue(v)) + 0.5;
      const len = Y_LABELS.includes(v) ? 20 : 10;
      ctx.moveTo(chartArea.left - len, py);
      ctx.lineTo(chartArea.left, py);
    });
    ctx.stroke();
    ctx.restore();
  },
};

export default function App() {
  const canvasRef = useRef<HTMLCanvasElement | null>(null);

  useEffect(() => {
    document.body.style.margin = "0";
    const canvas = canvasRef.current;
    if (!canvas) return;

    const windowSets = WINDOWS.map((ys, i) => ({
      data: toPoints(ys),
      borderColor: WINDOW_COLORS[i],
      borderWidth: 1.4,
      tension: 0.3,
      clip: 0,
    }));
    const statSets = [
      { data: toPoints(MEAN), borderColor: "#000000", borderWidth: 3.5, tension: 0.4, clip: 0 },
      { data: toPoints(UPPER), borderColor: "#000000", borderWidth: 4, borderDash: [14, 8], tension: 0.4, clip: 0 },
      { data: toPoints(LOWER), borderColor: "#000000", borderWidth: 4, borderDash: [14, 8], tension: 0.4, clip: 0 },
    ];

    const chart = new Chart(canvas, {
      type: "line",
      data: { datasets: [...windowSets, ...statSets] as any },
      options: {
        animation: false,
        responsive: false,
        maintainAspectRatio: false,
        parsing: false,
        normalized: true,
        layout: { padding: { top: 10, right: 0, bottom: 0, left: 0 } },
        plugins: { legend: { display: false }, tooltip: { enabled: false } },
        elements: { point: { radius: 0 } },
        scales: {
          x: {
            type: "logarithmic",
            min: X_MIN,
            max: X_MAX,
            afterBuildTicks: (s: any) => {
              s.ticks = X_TICKS.map((v) => ({ value: v }));
            },
            afterFit: (s: any) => {
              s.height = 78;
              s.paddingLeft = 0;
              s.paddingRight = 0;
            },
            ticks: {
              autoSkip: false,
              maxRotation: 0,
              padding: 24,
              color: "#1a1a1a",
              font: { family: FONT, size: 17 },
              callback: (v: any) => (X_LABELS.includes(Number(v)) ? String(v) : ""),
            },
            grid: { color: "#e6e6e6", lineWidth: 1.5, drawTicks: false },
            border: { display: true, color: "#b4b4b4", width: 1 },
            title: {
              display: true,
              text: "Frequency (Hz)",
              color: "#1a1a1a",
              font: { family: FONT, size: 17 },
              padding: { top: 0, bottom: 8 },
            },
          },
          y: {
            type: "linear",
            min: Y_MIN,
            max: Y_MAX,
            afterBuildTicks: (s: any) => {
              s.ticks = Y_TICKS.map((v) => ({ value: v }));
            },
            afterFit: (s: any) => {
              s.width = 62;
              s.paddingTop = 0;
              s.paddingBottom = 0;
            },
            ticks: {
              autoSkip: false,
              padding: 24,
              color: "#1a1a1a",
              font: { family: FONT, size: 17 },
              callback: (v: any) => (Y_LABELS.includes(Number(v)) ? String(v) : ""),
            },
            grid: { color: "#e6e6e6", lineWidth: 1.5, drawTicks: false },
            border: { display: false },
            title: {
              display: true,
              text: "H/V",
              color: "#1a1a1a",
              font: { family: FONT, size: 17 },
              padding: { top: 7, bottom: 0 },
            },
          },
        },
      },
      plugins: [bandPlugin, tickMarkPlugin],
    });

    return () => chart.destroy();
  }, []);

  return (
    <div style={{ width: 1067, height: 726 }}>
      <canvas ref={canvasRef} width={1067} height={726} style={{ display: "block" }} />
    </div>
  );
}
